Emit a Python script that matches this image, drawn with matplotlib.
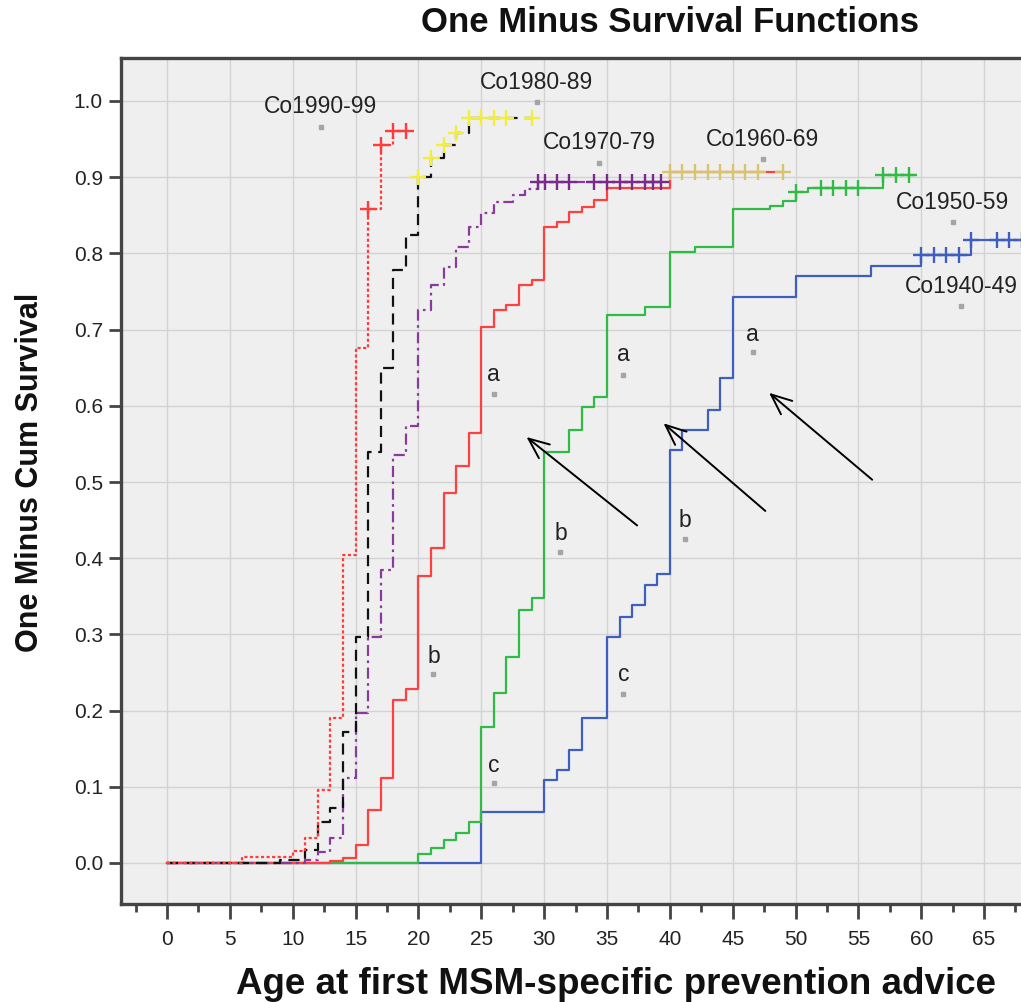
import numpy as np
import matplotlib
matplotlib.use('Agg')
import matplotlib.pyplot as plt
from matplotlib.ticker import MultipleLocator

plt.rcParams['font.family'] = ['Liberation Sans', 'DejaVu Sans']

# ---------------- data ----------------
cohorts = ['Co1990-99', 'Co1980-89', 'Co1970-79', 'Co1960-69', 'Co1950-59', 'Co1940-49']

t_1990 = [0, 6, 10, 11, 12, 13, 14, 15, 16, 17, 18]
y_1990 = [0, .008, .016, .033, .096, .19, .404, .676, .858, .942, .961]
end_1990 = 19
cens_1990 = [16, 17, 18, 19]

t_1980 = [0, 9, 11, 12, 13, 14, 15, 16, 17, 18, 19, 20, 21, 22, 23, 24]
y_1980 = [0, .004, .017, .054, .072, .172, .297, .54, .65, .778, .824, .90, .925, .942, .958, .978]
end_1980 = 29
cens_1980 = [20, 21, 22, 23, 24, 25, 26, 27, 29]

t_1970 = [0, 11, 12, 13, 14, 15, 16, 17, 18, 19, 20, 21, 22, 23, 24, 25, 26, 27.5, 28.5, 29.5]
y_1970 = [0, .004, .014, .033, .112, .197, .297, .385, .535, .573, .726, .758, .782, .808, .835,
          .853, .868, .876, .884, .894]
end_1970 = 39.5
cens_1970 = [29.5, 30.1, 31, 32, 34, 35, 36, 37, 38, 38.7, 39.3]

t_1960 = [0, 13, 14, 15, 16, 17, 18, 19, 20, 21, 22, 23, 24, 25, 26, 27, 28, 29, 30, 31, 32, 33,
          34, 35, 40]
y_1960 = [0, .002, .006, .024, .07, .111, .214, .229, .376, .414, .485, .521, .564, .704, .726,
          .732, .759, .765, .835, .841, .854, .861, .870, .886, .907]
end_1960 = 49
cens_1960 = [40, 41, 42, 43, 44, 45, 46, 47, 49]

t_1950 = [0, 20, 21, 22, 23, 24, 25, 26, 27, 28, 29, 30, 32, 33, 34, 35, 38, 40, 42, 45, 48, 49,
          50, 51, 57]
y_1950 = [0, .012, .02, .03, .04, .054, .179, .223, .27, .332, .348, .539, .568, .599, .612, .719,
          .73, .802, .809, .858, .862, .869, .88, .886, .903]
end_1950 = 59.4
cens_1950 = [50, 52, 53, 54, 55, 57, 58, 59]

t_1940 = [0, 25, 30, 31, 32, 33, 35, 36, 37, 38, 39, 40, 41, 43, 44, 45, 50, 56, 60, 64]
y_1940 = [0, .067, .109, .122, .148, .19, .297, .323, .339, .365, .379, .542, .568, .594, .636,
          .743, .770, .783, .798, .818]
end_1940 = 72
cens_1940 = [60, 61, 62, 63, 64, 66, 67, 68]

x_ticks = list(range(0, 70, 5))
y_ticks = [0.0, 0.1, 0.2, 0.3, 0.4, 0.5, 0.6, 0.7, 0.8, 0.9, 1.0]

# annotation labels (text, x, y of text, y of dot)
label_texts = ['Co1990-99', 'Co1980-89', 'Co1970-79', 'Co1960-69', 'Co1950-59', 'Co1940-49',
               'a', 'b', 'a', 'b', 'c', 'a', 'b', 'c']
label_x = [12.25, 29.4, 34.4, 47.4, 62.5, 63.2, 26.0, 21.2, 36.3, 31.3, 26.0, 46.6, 41.2, 36.3]
label_y = [0.993, 1.024, 0.945, 0.950, 0.867, 0.757, 0.641, 0.271, 0.667, 0.433, 0.128, 0.693,
           0.450, 0.247]
dot_y = [0.966, 0.999, 0.919, 0.924, 0.841, 0.731, 0.616, 0.248, 0.641, 0.408, 0.105, 0.671,
         0.425, 0.222]

arrow_tail = [(37.4, 0.443), (47.6, 0.462), (56.1, 0.503)]
arrow_head = [(28.6, 0.559), (39.5, 0.577), (47.9, 0.617)]

# ---------------- figure ----------------
fig = plt.figure(figsize=(10.21, 10.02), dpi=100)
ax_left, ax_right = 121 / 1021, 1050 / 1021
ax_bottom, ax_top = 1 - 904 / 1002, 1 - 58 / 1002
ax = fig.add_axes([ax_left, ax_bottom, ax_right - ax_left, ax_top - ax_bottom])
ax.set_facecolor('#efefef')

px_per_unit = 12.57
ax.set_xlim((121 - 167) / px_per_unit, (1050 - 167) / px_per_unit)
ax.set_ylim((863 - 904) / 762, (863 - 58) / 762)

ax.set_xticks(x_ticks)
ax.xaxis.set_minor_locator(MultipleLocator(2.5))
ax.set_yticks(y_ticks)
ax.set_yticklabels([f'{v:.1f}' for v in y_ticks])
ax.grid(True, which='major', color='#d3d3d3', linewidth=1.0)
ax.set_axisbelow(True)

for s in ax.spines.values():
    s.set_color('#444444')
    s.set_linewidth(2.4)
ax.tick_params(axis='both', which='major', direction='out', color='#444444', width=2.0,
               labelsize=15, labelcolor='#222222')
ax.tick_params(axis='x', which='major', length=11, pad=8)
ax.tick_params(axis='x', which='minor', length=6, width=2.0, color='#444444')
ax.tick_params(axis='y', which='major', length=9, pad=4)

series = [
    (t_1940, y_1940, end_1940, cens_1940, '#3f5fc0', '-', '#3f5fc0'),
    (t_1950, y_1950, end_1950, cens_1950, '#2fbb45', '-', '#2fbb45'),
    (t_1960, y_1960, end_1960, cens_1960, '#ff4040', '-', '#d8c46e'),
    (t_1970, y_1970, end_1970, cens_1970, '#8a3a9c', (0, (5, 2, 1.2, 2)), '#7a2a8c'),
    (t_1980, y_1980, end_1980, cens_1980, '#111111', (0, (5, 3)), '#f2ee3c'),
    (t_1990, y_1990, end_1990, cens_1990, '#ff3b3b', (0, (1.4, 1.1)), '#ff3b3b'),
]

for t, y, end, cens, col, ls, ccol in series:
    xs = list(t) + [end]
    ys = list(y) + [y[-1]]
    ax.step(xs, ys, where='post', color=col, linestyle=ls, linewidth=1.6, zorder=3)
    idx = np.searchsorted(np.array(t), np.array(cens), side='right') - 1
    cy = np.array(y)[idx]
    ax.plot(cens, cy, linestyle='none', marker='+', markersize=11, markeredgewidth=1.7,
            color=ccol, zorder=4)

for txt, lx, ly, dy in zip(label_texts, label_x, label_y, dot_y):
    ax.text(lx, ly, txt, ha='center', va='center', fontsize=16.5, color='#222222', zorder=5)
    ax.plot([lx], [dy], marker='s', markersize=2.2, color='#a5a5a5', linestyle='none', zorder=5)

for tail, head in zip(arrow_tail, arrow_head):
    ax.annotate('', xy=head, xytext=tail,
                arrowprops=dict(arrowstyle='->,head_length=0.7,head_width=0.3',
                                mutation_scale=21, color='black', lw=1.4,
                                shrinkA=0, shrinkB=0), zorder=6)

fig.text(670 / 1021, 1 - 22 / 1002, 'One Minus Survival Functions', ha='center', va='center',
         fontsize=25, fontweight='bold', color='#111111')
fig.text(616 / 1021, 1 - 985 / 1002, 'Age at first MSM-specific prevention advice',
         ha='center', va='center', fontsize=26.5, fontweight='bold', color='#111111')
fig.text(30 / 1021, 1 - 472 / 1002, 'One Minus Cum Survival', ha='center', va='center',
         rotation=90, fontsize=22, fontweight='bold', color='#111111')

fig.savefig('out.png', dpi=100)
